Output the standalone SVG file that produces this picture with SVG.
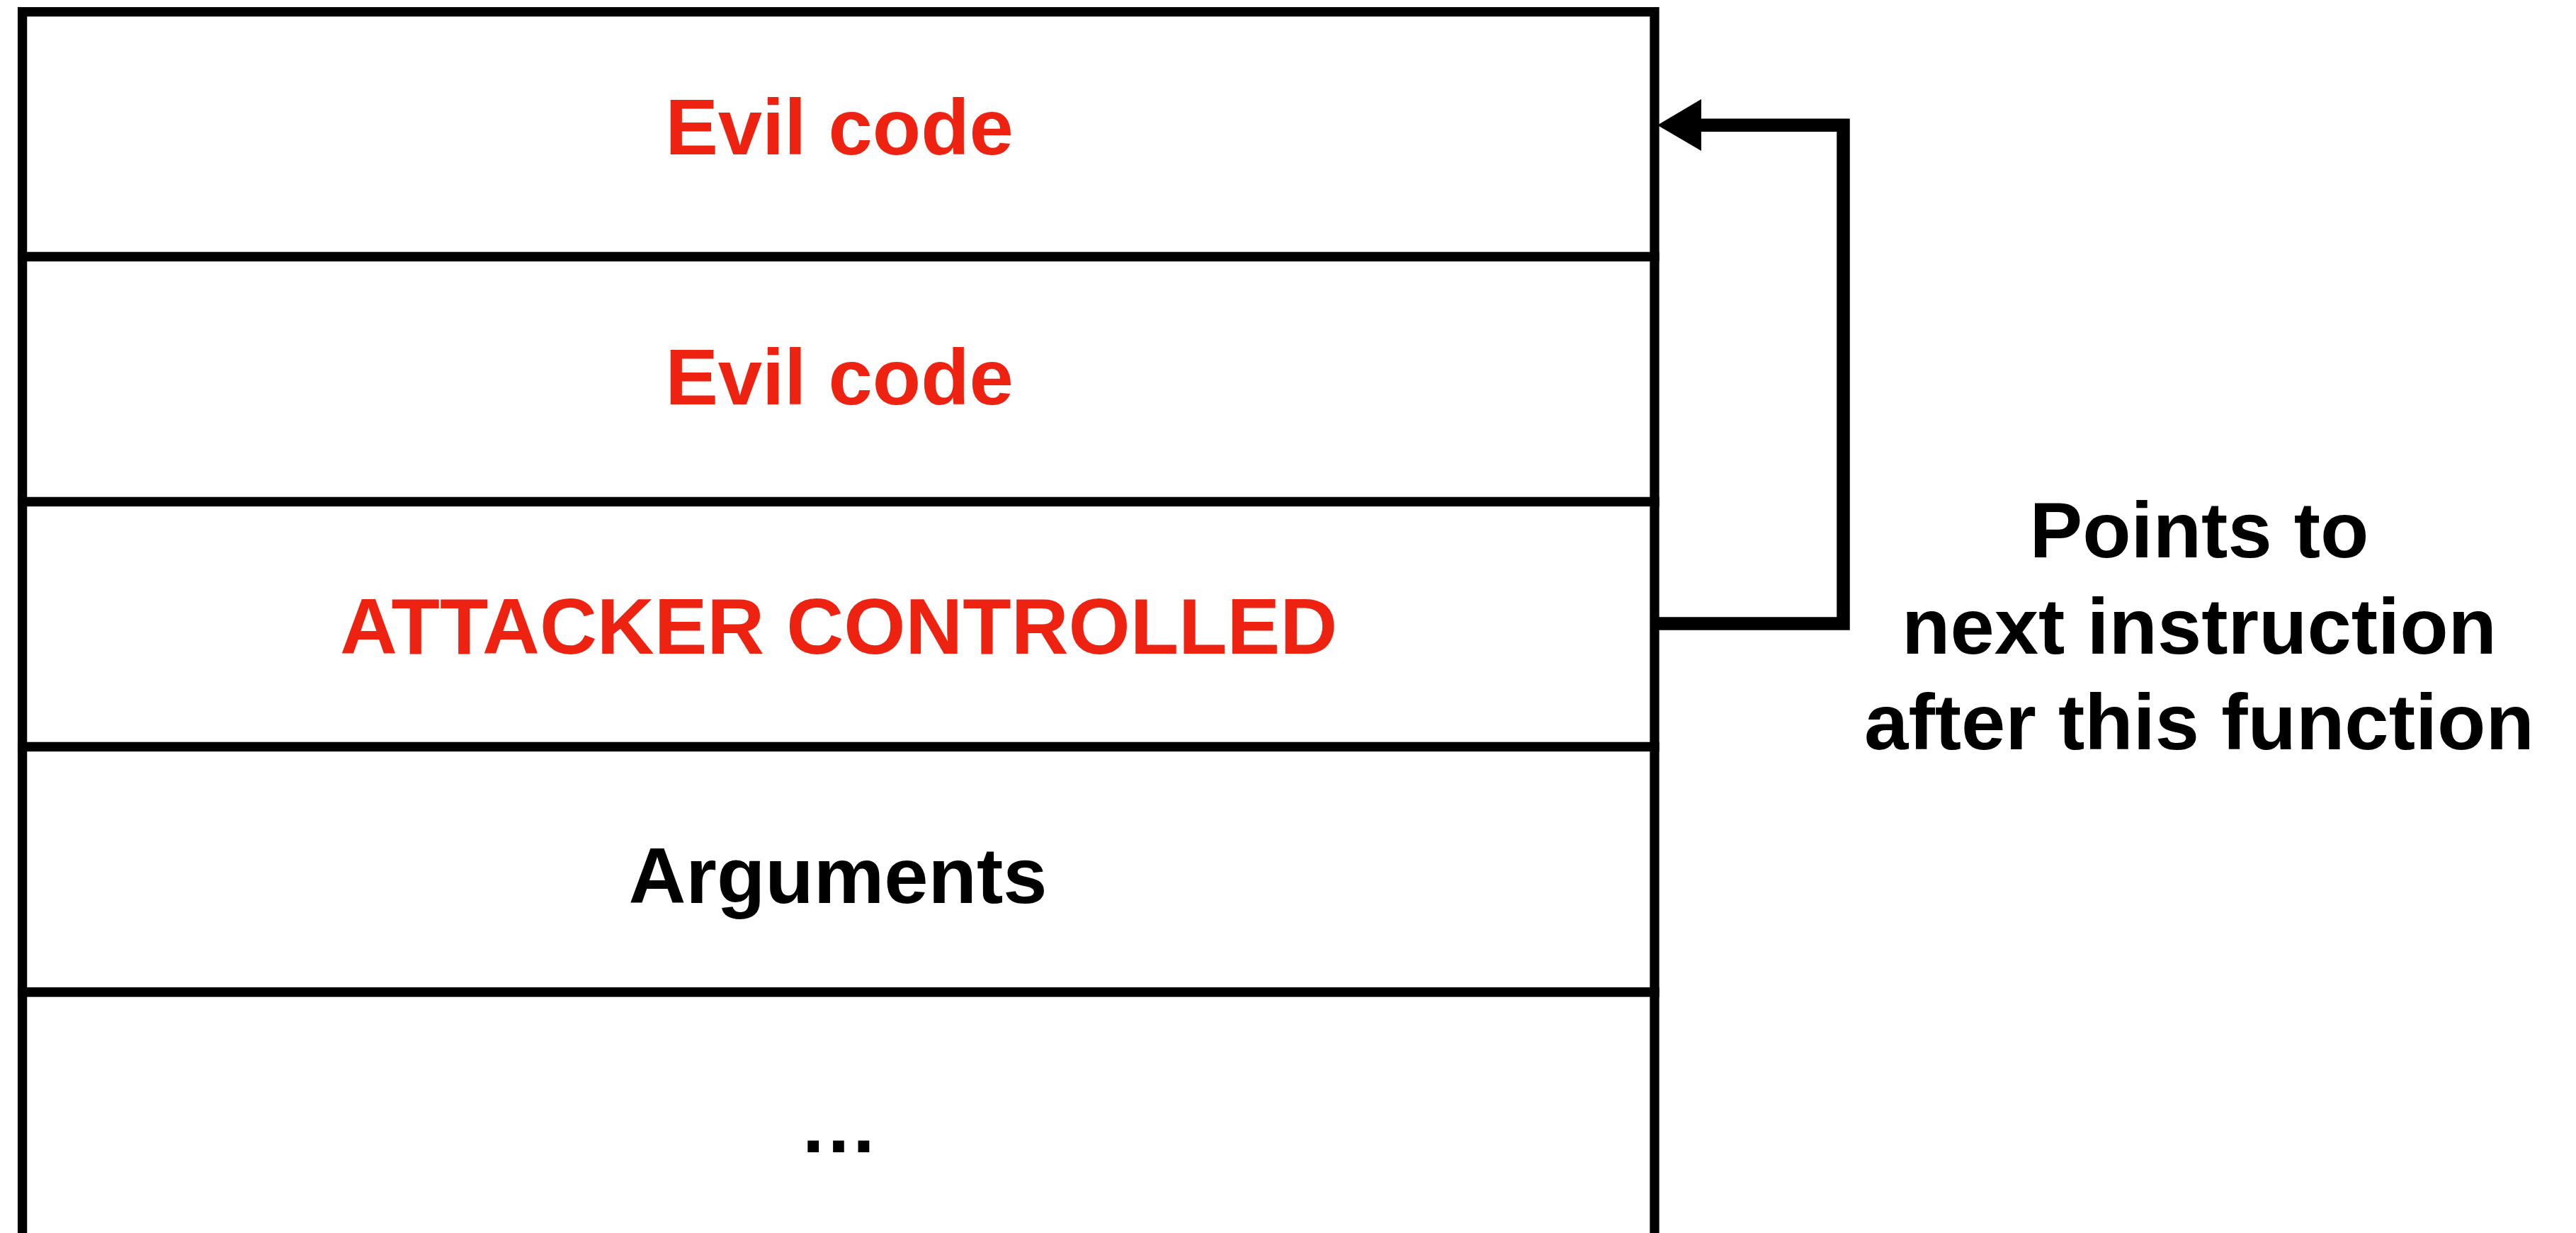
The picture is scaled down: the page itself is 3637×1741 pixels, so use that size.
<svg xmlns="http://www.w3.org/2000/svg" width="3637" height="1741" viewBox="0 0 3637 1741">
  <style>
    .cell { fill: #ffffff; stroke: #000000; stroke-width: 13.3; }
    .label { font-family: "Liberation Sans", Arial, Helvetica, sans-serif; font-weight: bold; font-size: 112px; text-anchor: middle; }
    .evil { fill: #EE2210; }
    .plain { fill: #000000; }
    .wire { fill: none; stroke: #000000; stroke-width: 18.5; stroke-linejoin: miter; stroke-linecap: butt; }
  </style>
  <rect x="0" y="0" width="3637" height="1741" fill="#ffffff"/>

  <!-- stack frame cells, top to bottom -->
  <g id="cell-evil-1">
    <rect class="cell" x="31.6" y="16.7" width="2304.4" height="345.8"/>
    <text class="label evil" x="1185" y="218">Evil code</text>
  </g>
  <g id="cell-evil-2">
    <rect class="cell" x="31.6" y="362.5" width="2304.4" height="346"/>
    <text class="label evil" x="1185" y="571">Evil code</text>
  </g>
  <g id="cell-return-address">
    <rect class="cell" x="31.6" y="708.5" width="2304.4" height="346"/>
    <text class="label evil" x="1184" y="923">ATTACKER CONTROLLED</text>
  </g>
  <g id="cell-arguments">
    <rect class="cell" x="31.6" y="1054.5" width="2304.4" height="346.5"/>
    <text class="label plain" x="1183" y="1275">Arguments</text>
  </g>
  <g id="cell-more">
    <rect class="cell" x="31.6" y="1401" width="2304.4" height="360"/>
    <text class="label plain" x="1184" y="1627">…</text>
  </g>

  <!-- return pointer loop back to the top cell -->
  <g id="connectors">
    <path class="wire" d="M2330 880.5 H2602.5 V176.8 H2400"/>
    <polygon points="2340,176.8 2402,140 2402,213" fill="#000000"/>
  </g>

  <g id="note">
    <text class="label plain" x="3105" y="787">Points to</text>
    <text class="label plain" x="3105" y="923">next instruction</text>
    <text class="label plain" x="3105" y="1058">after this function</text>
  </g>
</svg>
